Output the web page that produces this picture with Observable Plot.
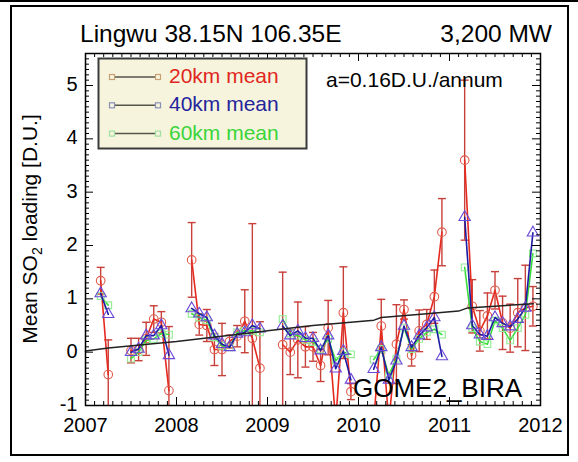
<!DOCTYPE html>
<html><head><meta charset="utf-8">
<script src="https://cdn.jsdelivr.net/npm/d3@7"></script>
<script src="https://cdn.jsdelivr.net/npm/@observablehq/plot@0.6"></script>
<style>
html,body{margin:0;padding:0;background:#fff;}
#wrap{position:relative;width:578px;height:462px;overflow:hidden;font-family:"Liberation Sans",Arial,Helvetica,sans-serif;}
#chart{position:absolute;left:0;top:0;}
#over{position:absolute;left:0;top:0;pointer-events:none;}
</style></head><body>
<div id="wrap"><div id="chart"></div><svg id="over" width="578" height="462"></svg></div>
<script>
// ---- texts ----
const title = "Lingwu 38.15N 106.35E";
const capacity = "3,200 MW";
const slopeNote = "a=0.16D.U./annum";
const source = "GOME2_BIRA";
const seriesNames = ["20km mean", "40km mean", "60km mean"];
const xTicks = [2007, 2008, 2009, 2010, 2011, 2012];
const yTicks = [-1, 0, 1, 2, 3, 4, 5];
const startYear = 2007; // monthly series start: Jan 2007

// ---- monthly means, Jan 2007 .. Dec 2011 (null = no data) ----
const red20 = [
  null, null, 1.34, -0.42, null, null, 0.03, 0.05, 0.25, 0.62, 0.56, -0.72,
  null, null, 1.73, 0.52, 0.5, 0.05, 0.05, 0.2, 0.3, 0.58, 0.26, -0.3,
  null, null, 0.14, 0.0, 0.23, 0.1, 0.1, -0.25, 0.46, -1.3, 0.74, -0.74,
  null, null, -1.3, 0.49, -1.3, 0.15, 0.8, -0.06, 0.4, 0.52, 1.04, 2.25,
  null, null, 3.6, 0.86, 0.4, 0.68, 1.16, 0.55, 0.45, 0.74, 0.83, 0.86
];
const red20Err = [
  null, null, 0.25, 0.65, null, null, 0.23, 0.21, 0.31, 0.25, 0.2, 1.2,
  null, null, 0.7, 0.2, 0.3, 0.3, 0.49, 0.12, 0.2, 0.59, 2.15, 0.87,
  null, null, 1.36, 0.42, 0.71, 0.38, 0.27, 0.3, 0.51, 0.3, 0.86, 0.15,
  null, null, 0.3, 0.5, 0.3, 0.74, 0.18, 0.2, 0.39, 0.28, 0.5, 0.63,
  null, null, 1.5, 0.5, 0.38, 0.43, 0.35, 0.5, 0.45, 0.64, 0.8, 0.37
];
const blue40 = [
  null, null, 1.1, 0.71, null, null, 0.0, 0.06, 0.31, 0.31, 0.5, -0.06,
  null, null, 0.82, 0.72, 0.65, 0.31, 0.15, 0.09, 0.34, 0.37, 0.5, 0.44,
  null, null, 0.49, 0.31, 0.4, 0.26, 0.26, 0.03, 0.31, -0.31, 0.02, -0.52,
  null, null, -0.32, 0.09, -0.52, -0.16, 0.49, 0.09, 0.31, 0.46, 0.65, -0.08,
  null, null, 2.53, 0.5, 0.33, 0.3, 0.65, 0.54, 0.48, 0.62, 0.83, 2.24
];
const green60 = [
  null, null, 1.05, 0.88, null, null, -0.12, 0.0, 0.22, 0.25, 0.35, 0.33,
  null, null, 0.72, 0.65, 0.6, 0.28, 0.12, 0.09, 0.37, 0.4, 0.4, 0.37,
  null, null, 0.62, 0.35, 0.31, 0.23, 0.19, 0.05, 0.25, -0.16, 0.0, -0.04,
  null, null, -0.14, 0.06, -0.43, -0.12, 0.46, 0.06, 0.25, 0.37, 0.43, 0.33,
  null, null, 1.59, 0.45, 0.2, 0.15, 0.59, 0.45, 0.22, 0.45, 0.7, 1.85
];
// ---- fitted trend (black line) ----
const trendT = [2007.0, 2007.25, 2008.0, 2009.0, 2009.5, 2010.17, 2010.25, 2010.75, 2011.1, 2011.2, 2011.92];
const trendV = [0.02, 0.08, 0.2, 0.4, 0.5, 0.6, 0.65, 0.72, 0.77, 0.83, 0.91];

// ---- colours ----
const cRedLine = "#e52a20", cRedErr = "#c8403a", cRedSym = "#e05a4a";
const cBlueLine = "#1c1ca4", cBlueSym = "#6a48d8";
const cGreenLine = "#3ade3a", cGreenSym = "#90ec90";
const legendText = ["#e0261f", "#24249c", "#3ad43a"];
const legendSym = ["#c8a078", "#8a90b8", "#a0e0a0"];

const rows = red20.map((_, k) => ({
  t: startYear + k / 12, r: red20[k], e: red20Err[k], b: blue40[k], g: green60[k]
}));
const redRows = rows.filter(d => d.r != null);
const trend = trendT.map((t, i) => ({t, v: trendV[i]}));

const mL = 85, mR = 38, mT = 53, mB = 57, Wd = 578, Ht = 462;
const PH = Ht - mT - mB, PW = Wd - mL - mR;
const xMinor = d3.range(1, 50).filter(i => i % 10 !== 0).map(i => startYear + i / 10);
const yMinor = d3.range(-10, 56).filter(i => i % 10 !== 0).map(i => i / 10);
const capSym = {draw(ctx, size) { const w = Math.sqrt(size / Math.PI); ctx.moveTo(-w, 0); ctx.lineTo(w, 0); }};

const plot = Plot.plot({
  width: Wd, height: Ht, marginLeft: mL, marginRight: mR, marginTop: mT, marginBottom: mB,
  style: {fontFamily: "'Liberation Sans', Arial, sans-serif", background: "transparent", color: "#000", overflow: "visible"},
  x: {domain: [2007, 2012]},
  y: {domain: [-1, 5.6]},
  marks: [
    Plot.ruleX(redRows, {x: "t", y1: d => d.r - d.e, y2: d => d.r + d.e, stroke: cRedErr, strokeWidth: 1.4, clip: true}),
    Plot.dot(redRows, {x: "t", y: d => d.r + d.e, symbol: capSym, r: 4, stroke: cRedErr, fill: "none", strokeWidth: 1.4, clip: true}),
    Plot.dot(redRows, {x: "t", y: d => d.r - d.e, symbol: capSym, r: 4, stroke: cRedErr, fill: "none", strokeWidth: 1.4, clip: true}),
    Plot.line(rows, {x: "t", y: "r", stroke: cRedLine, strokeWidth: 1.6, clip: true}),
    Plot.dot(redRows, {x: "t", y: "r", r: 4.3, stroke: cRedSym, fill: "none", strokeWidth: 1.1, clip: true}),
    Plot.line(rows, {x: "t", y: "g", stroke: cGreenLine, strokeWidth: 1.6, clip: true}),
    Plot.dot(rows, {x: "t", y: "g", symbol: "square", r: 3.8, stroke: cGreenSym, fill: "none", strokeWidth: 1.1, clip: true}),
    Plot.line(rows, {x: "t", y: "b", stroke: cBlueLine, strokeWidth: 1.6, clip: true}),
    Plot.dot(rows, {x: "t", y: "b", symbol: "triangle", r: 4.2, stroke: cBlueSym, fill: "none", strokeWidth: 1.1, clip: true}),
    Plot.line(trend, {x: "t", y: "v", stroke: "#222", strokeWidth: 1.5}),
    Plot.frame({stroke: "#000", strokeWidth: 1.5}),
    // inward ticks on all four sides
    Plot.ruleX(xTicks, {x: d => d, insetTop: PH - 8, stroke: "#000"}),
    Plot.ruleX(xMinor, {x: d => d, insetTop: PH - 4, stroke: "#000"}),
    Plot.ruleX(xTicks, {x: d => d, insetBottom: PH - 8, stroke: "#000"}),
    Plot.ruleX(xMinor, {x: d => d, insetBottom: PH - 4, stroke: "#000"}),
    Plot.ruleY(yTicks, {y: d => d, insetRight: PW - 8, stroke: "#000"}),
    Plot.ruleY(yMinor, {y: d => d, insetRight: PW - 4, stroke: "#000"}),
    Plot.ruleY(yTicks, {y: d => d, insetLeft: PW - 8, stroke: "#000"}),
    Plot.ruleY(yMinor, {y: d => d, insetLeft: PW - 4, stroke: "#000"}),
    Plot.axisX(xTicks, {anchor: "bottom", tickSize: 0, tickPadding: 12, fontSize: 20, tickFormat: d => String(d), label: null}),
    Plot.axisY(yTicks, {anchor: "left", tickSize: 0, tickPadding: 8, fontSize: 20, dy: -1, tickFormat: d => String(d), label: null})
  ]
});
document.getElementById("chart").appendChild(plot);

// ---- overlay: borders, titles, annotations, legend ----
const over = d3.select("#over");
over.append("rect").attr("x", 0).attr("y", 0).attr("width", Wd).attr("height", 2).attr("fill", "#000");
over.append("rect").attr("x", 11).attr("y", 6).attr("width", 557).attr("height", 449)
  .attr("fill", "none").attr("stroke", "#000").attr("stroke-width", 2);
const font = "'Liberation Sans', Arial, sans-serif";
over.append("text").attr("x", 80).attr("y", 42).attr("font-size", 24.5).attr("font-family", font).text(title);
over.append("text").attr("x", 552).attr("y", 42).attr("text-anchor", "end").attr("font-size", 24.5).attr("font-family", font).text(capacity);
over.append("text").attr("x", 326).attr("y", 87).attr("font-size", 21).attr("font-family", font).text(slopeNote);
over.append("text").attr("x", 353).attr("y", 397).attr("font-size", 26).attr("font-family", font).text(source);
const yl = over.append("text").attr("transform", "translate(37,229) rotate(-90)")
  .attr("text-anchor", "middle").attr("font-size", 21).attr("font-family", font);
yl.append("tspan").text("Mean SO");
yl.append("tspan").attr("font-size", 14).attr("dy", 5).text("2");
yl.append("tspan").attr("dy", -5).text(" loading [D.U.]");

// legend
const lg = over.append("g");
lg.append("rect").attr("x", 98.5).attr("y", 58.5).attr("width", 208).attr("height", 90)
  .attr("fill", "#f6f4dc").attr("stroke", "#3a3a3a").attr("stroke-width", 2);
seriesNames.forEach((name, i) => {
  const y = 77 + 28.3 * i;
  lg.append("line").attr("x1", 112).attr("x2", 158).attr("y1", y).attr("y2", y)
    .attr("stroke", "#55554a").attr("stroke-width", 1.5);
  [112, 158].forEach(x => lg.append("rect").attr("x", x - 2.5).attr("y", y - 2.5).attr("width", 5).attr("height", 5)
    .attr("fill", "#f6f4dc").attr("stroke", legendSym[i]).attr("stroke-width", 1.2));
  lg.append("text").attr("x", 169).attr("y", y + 6).attr("font-size", 21).attr("font-family", font)
    .attr("fill", legendText[i]).text(name);
});
</script>
</body></html>
